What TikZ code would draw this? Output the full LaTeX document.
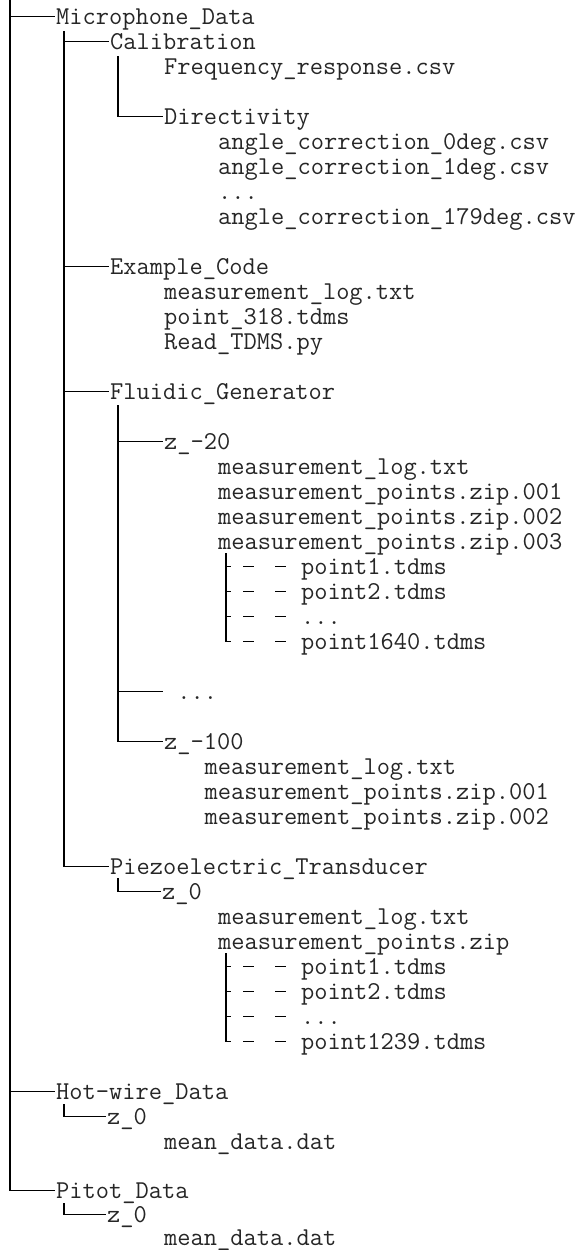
\documentclass[tikz,border=0pt]{standalone}
\usepackage{fontspec}
\begin{document}
\begin{tikzpicture}[x=1pt,y=1pt]
\tikzset{
 txt/.style={font={\ttfamily\fontsize{25.7}{25}\selectfont}, text=black!85, anchor=base west, inner xsep=1pt, inner ysep=0pt, text height=15pt, text depth=0pt},
 conn/.style={line width=1.8pt},
 pline/.style={line width=1.6pt},
 pdash/.style={line width=1.6pt, dash pattern=on 5pt off 12pt on 11pt off 21pt on 11pt},
}
\useasboundingbox (0,0) rectangle (588,-1250);
% level 0
\node[txt] (mic) at (55,-24) {Microphone\_Data};
\node[txt] (hot) at (55,-1099) {Hot-wire\_Data};
\node[txt] (pit) at (55,-1198) {Pitot\_Data};
% Microphone children
\node[txt] (cal) at (109,-49) {Calibration};
\node[txt] (freq) at (163,-74) {Frequency\_response.csv};
\node[txt] (dir) at (163,-124) {Directivity};
\node[txt] (a0) at (217,-149) {angle\_correction\_0deg.csv};
\node[txt] (a1) at (217,-174) {angle\_correction\_1deg.csv};
\node[txt] (ad) at (217,-199) {...};
\node[txt] (a179) at (217,-224) {angle\_correction\_179deg.csv};
\node[txt] (ex) at (109,-274) {Example\_Code};
\node[txt] (exl) at (163,-299) {measurement\_log.txt};
\node[txt] (exp) at (163,-324) {point\_318.tdms};
\node[txt] (exr) at (163,-349) {Read\_TDMS.py};
\node[txt] (flu) at (109,-399) {Fluidic\_Generator};
\node[txt] (z20) at (163,-449) {z\_-20};
\node[txt] (z20l) at (217,-474) {measurement\_log.txt};
\node[txt] (z20a) at (217,-499) {measurement\_points.zip.001};
\node[txt] (z20b) at (217,-524) {measurement\_points.zip.002};
\node[txt] (z20c) at (217,-549) {measurement\_points.zip.003};
\node[txt] (p1) at (300,-574) {point1.tdms};
\node[txt] (p2) at (300,-599) {point2.tdms};
\node[txt] (pd) at (300,-624) {...};
\node[txt] (p1640) at (300,-649) {point1640.tdms};
\node[txt] (fdots) at (163,-699) {\ ...};
\node[txt] (z100) at (163,-749) {z\_-100};
\node[txt] (z100l) at (203.5,-774) {measurement\_log.txt};
\node[txt] (z100a) at (203.5,-799) {measurement\_points.zip.001};
\node[txt] (z100b) at (203.5,-824) {measurement\_points.zip.002};
\node[txt] (pie) at (109,-874) {Piezoelectric\_Transducer};
\node[txt] (pz) at (161,-899) {z\_0};
\node[txt] (pzl) at (217,-924) {measurement\_log.txt};
\node[txt] (pzz) at (217,-949) {measurement\_points.zip};
\node[txt] (q1) at (300,-974) {point1.tdms};
\node[txt] (q2) at (300,-999) {point2.tdms};
\node[txt] (qd) at (300,-1024) {...};
\node[txt] (q1239) at (300,-1049) {point1239.tdms};
% Hot-wire / Pitot children
\node[txt] (hz) at (106,-1124) {z\_0};
\node[txt] (hm) at (163,-1149) {mean\_data.dat};
\node[txt] (tz) at (106,-1222) {z\_0};
\node[txt] (tm) at (163,-1245) {mean\_data.dat};
% trunk coordinates
\coordinate (rootT) at (10,0);
\coordinate (micT) at (64,-31);
\coordinate (calT) at (118,-56);
\coordinate (fluT) at (118,-405);
\coordinate (pieT) at (118,-878);
\coordinate (hotT) at (64,-1104);
\coordinate (pitT) at (64,-1203);
\coordinate (d1T) at (226,-553);
\coordinate (d2T) at (226,-953);
% connectors
\draw[conn] (rootT) |- (mic.west);
\draw[conn] (rootT) |- (hot.west);
\draw[conn] (rootT) |- (pit.west);
\draw[conn] (micT) |- (cal.west);
\draw[conn] (micT) |- (ex.west);
\draw[conn] (micT) |- (flu.west);
\draw[conn] (micT) |- (pie.west);
\draw[conn] (calT) |- (dir.west);
\draw[conn] (fluT) |- (z20.west);
\draw[conn] (fluT) |- (fdots.west);
\draw[conn] (fluT) |- (z100.west);
\draw[conn] (pieT) |- (pz.west);
\draw[conn] (hotT) |- (hz.west);
\draw[conn] (pitT) |- (tz.west);
% dashed file lists
\draw[pline] (d1T) -- (d1T |- p1640.west);
\foreach \n in {p1,p2,pd,p1640}{
  \draw[pdash] (d1T |- \n.west) -- ([xshift=-14pt]\n.west);
}
\draw[pline] (d2T) -- (d2T |- q1239.west);
\foreach \n in {q1,q2,qd,q1239}{
  \draw[pdash] (d2T |- \n.west) -- ([xshift=-14pt]\n.west);
}
\end{tikzpicture}
\end{document}
